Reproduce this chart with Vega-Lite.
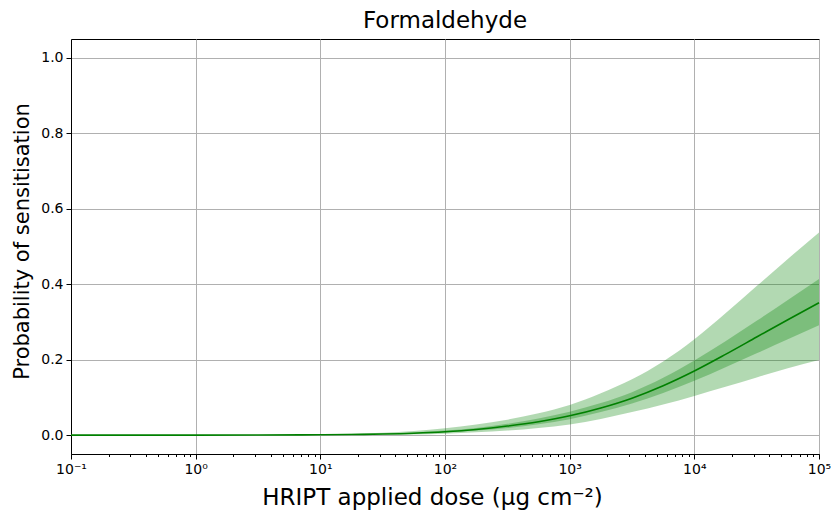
{
  "$schema": "https://vega.github.io/schema/vega-lite/v6.json",
  "autosize": "none",
  "width": 748,
  "height": 415,
  "padding": {"left": 71, "top": 39, "right": 12, "bottom": 56},
  "background": "white",
  "title": {"text": "Formaldehyde", "font": "DejaVu Sans", "fontSize": 23, "fontWeight": "normal", "color": "black", "offset": 6, "anchor": "middle"},
  "config": {
    "view": {"stroke": "black", "strokeWidth": 1},
    "axis": {
      "domainColor": "black", "tickColor": "black", "labelColor": "black", "titleColor": "black",
      "labelFont": "DejaVu Sans", "titleFont": "DejaVu Sans", "labelFontSize": 14, "titleFontSize": 21,
      "titleFontWeight": "normal", "gridColor": "#b0b0b0", "gridWidth": 1, "tickSize": 5, "labelPadding": 3
    }
  },
  "data": {"values": [
    {"dose": 0.1, "lo95": 0, "lo50": 0, "med": 0, "hi50": 0, "hi95": 0},
    {"dose": 1, "lo95": 0, "lo50": 0, "med": 0.0001, "hi50": 0.0001, "hi95": 0.0002},
    {"dose": 3.162, "lo95": 0.0001, "lo50": 0.0002, "med": 0.0003, "hi50": 0.0004, "hi95": 0.0006},
    {"dose": 10, "lo95": 0.0004, "lo50": 0.0008, "med": 0.001, "hi50": 0.0013, "hi95": 0.0023},
    {"dose": 17.78, "lo95": 0.0007, "lo50": 0.0013, "med": 0.0017, "hi50": 0.0023, "hi95": 0.004},
    {"dose": 31.62, "lo95": 0.001, "lo50": 0.0023, "med": 0.003, "hi50": 0.004, "hi95": 0.0065},
    {"dose": 56.23, "lo95": 0.002, "lo50": 0.004, "med": 0.0052, "hi50": 0.007, "hi95": 0.011},
    {"dose": 100, "lo95": 0.004, "lo50": 0.007, "med": 0.009, "hi50": 0.012, "hi95": 0.018},
    {"dose": 177.8, "lo95": 0.0075, "lo50": 0.012, "med": 0.0151, "hi50": 0.019, "hi95": 0.028},
    {"dose": 316.2, "lo95": 0.012, "lo50": 0.019, "med": 0.0241, "hi50": 0.03, "hi95": 0.041},
    {"dose": 562.3, "lo95": 0.019, "lo50": 0.029, "med": 0.0356, "hi50": 0.044, "hi95": 0.058},
    {"dose": 1000, "lo95": 0.028, "lo50": 0.042, "med": 0.0512, "hi50": 0.062, "hi95": 0.08},
    {"dose": 1778, "lo95": 0.043, "lo50": 0.061, "med": 0.072, "hi50": 0.085, "hi95": 0.111},
    {"dose": 3162, "lo95": 0.061, "lo50": 0.084, "med": 0.098, "hi50": 0.114, "hi95": 0.148},
    {"dose": 5623, "lo95": 0.081, "lo50": 0.112, "med": 0.131, "hi50": 0.152, "hi95": 0.195},
    {"dose": 10000, "lo95": 0.104, "lo50": 0.144, "med": 0.17, "hi50": 0.198, "hi95": 0.254},
    {"dose": 17783, "lo95": 0.128, "lo50": 0.18, "med": 0.214, "hi50": 0.249, "hi95": 0.323},
    {"dose": 31623, "lo95": 0.153, "lo50": 0.217, "med": 0.26, "hi50": 0.303, "hi95": 0.395},
    {"dose": 56234, "lo95": 0.177, "lo50": 0.254, "med": 0.306, "hi50": 0.358, "hi95": 0.467},
    {"dose": 100000, "lo95": 0.199, "lo50": 0.291, "med": 0.351, "hi50": 0.414, "hi95": 0.537}
  ]},
  "resolve": {"axis": {"x": "independent"}},
  "layer": [
    {
      "mark": {"type": "area", "color": "green", "opacity": 0.3, "interpolate": "monotone"},
      "encoding": {
        "x": {"field": "dose", "type": "quantitative", "scale": {"type": "log", "domain": [0.1, 100000], "nice": false},
          "axis": {"orient": "bottom", "values": [0.2,0.3,0.4,0.5,0.6,0.7,0.8,0.9,2,3,4,5,6,7,8,9,20,30,40,50,60,70,80,90,200,300,400,500,600,700,800,900,2000,3000,4000,5000,6000,7000,8000,9000,20000,30000,40000,50000,60000,70000,80000,90000],
            "labels": false, "grid": false, "domain": false, "tickSize": 2.5, "title": null}},
        "y": {"field": "lo95", "type": "quantitative", "scale": {"domain": [-0.05, 1.05], "nice": false, "zero": false},
          "axis": {"values": [0, 0.2, 0.4, 0.6, 0.8, 1.0], "format": ".1f", "title": "Probability of sensitisation", "titlePadding": 8, "titleY": 202, "grid": true}},
        "y2": {"field": "hi95"}
      }
    },
    {
      "mark": {"type": "area", "color": "green", "opacity": 0.3, "interpolate": "monotone"},
      "encoding": {
        "x": {"field": "dose", "type": "quantitative", "scale": {"type": "log", "domain": [0.1, 100000], "nice": false}, "axis": null},
        "y": {"field": "lo50", "type": "quantitative", "scale": {"domain": [-0.05, 1.05], "nice": false, "zero": false},
          "axis": {"values": [0, 0.2, 0.4, 0.6, 0.8, 1.0], "format": ".1f", "title": "Probability of sensitisation", "titlePadding": 8, "titleY": 202, "grid": true}},
        "y2": {"field": "hi50"}
      }
    },
    {
      "mark": {"type": "line", "color": "green", "strokeWidth": 1.6, "interpolate": "monotone"},
      "encoding": {
        "x": {"field": "dose", "type": "quantitative", "scale": {"type": "log", "domain": [0.1, 100000], "nice": false},
          "axis": {"orient": "bottom", "values": [0.1, 1, 10, 100, 1000, 10000, 100000], "grid": true,
            "labelExpr": "'10' + ['⁻¹','⁰','¹','²','³','⁴','⁵'][round(log(datum.value)/LN10)+1]",
            "title": "HRIPT applied dose (μg cm⁻²)", "titleFontSize": 23, "titlePadding": 10, "titleX": 361, "labelFlush": false}},
        "y": {"field": "med", "type": "quantitative", "scale": {"domain": [-0.05, 1.05], "nice": false, "zero": false},
          "axis": {"values": [0, 0.2, 0.4, 0.6, 0.8, 1.0], "format": ".1f", "title": "Probability of sensitisation", "titlePadding": 8, "titleY": 202, "grid": true}}
      }
    }
  ]
}
